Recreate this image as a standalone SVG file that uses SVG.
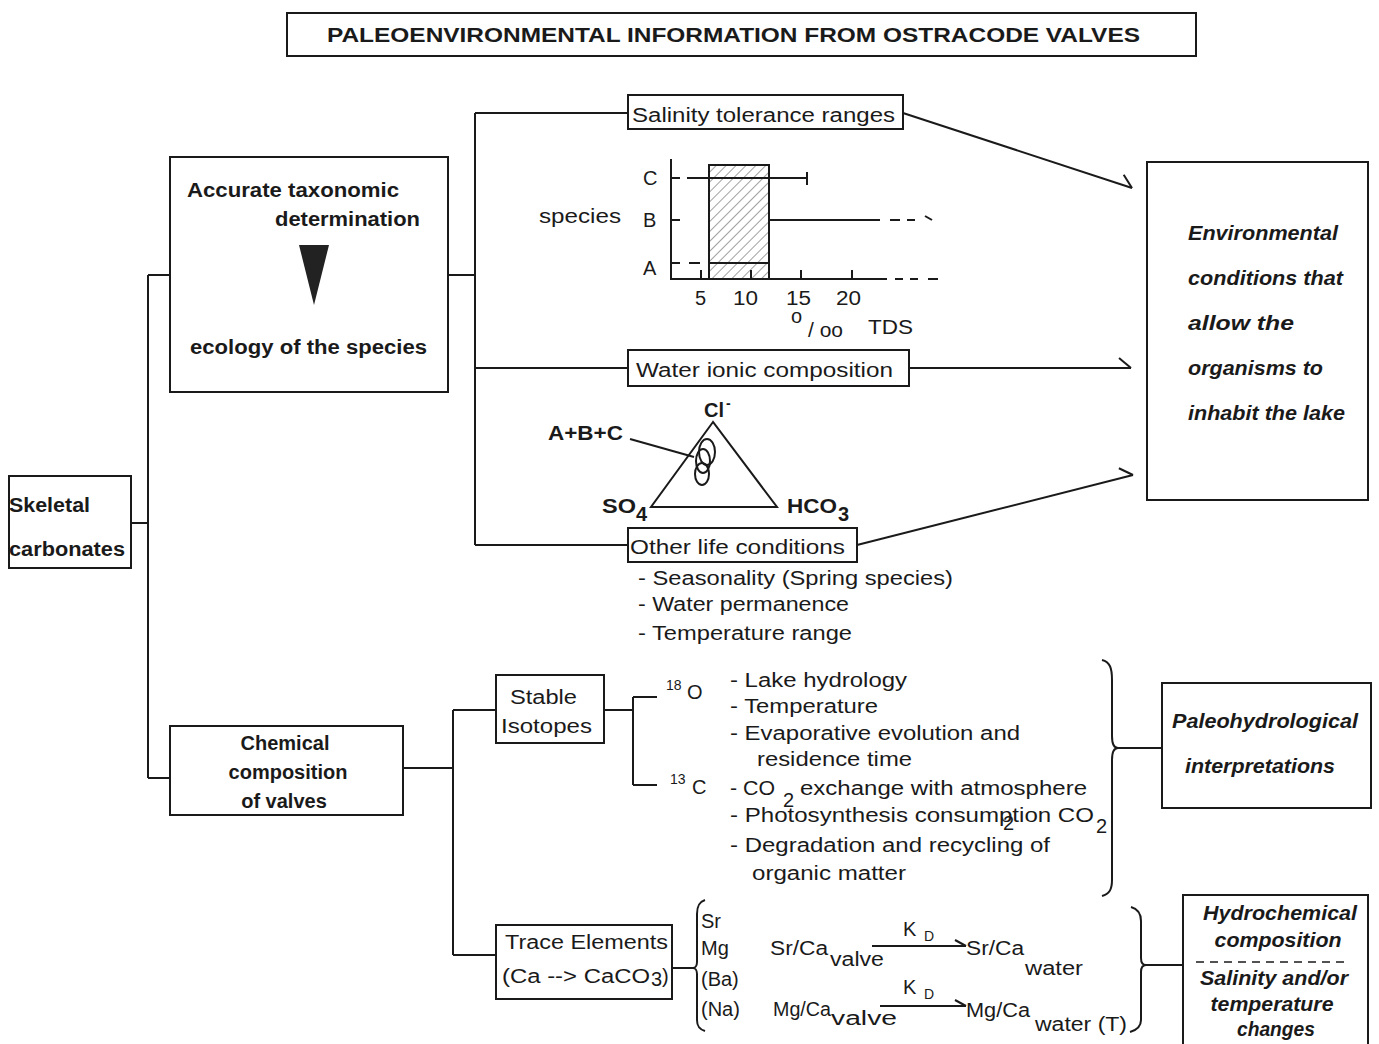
<svg xmlns="http://www.w3.org/2000/svg" width="1379" height="1044" viewBox="0 0 1379 1044">
<defs>
<style>
.ln{stroke:#1a1a1a;stroke-width:2;fill:none}
.bx{stroke:#1a1a1a;stroke-width:2;fill:#fff}
text{font-family:"Liberation Sans",Arial,sans-serif;fill:#1a1a1a;font-size:20px}
.b{font-weight:bold}
.i{font-weight:bold;font-style:italic}
.sm{font-size:14px}
</style>
<marker id="half" markerWidth="20" markerHeight="20" refX="14" refY="12" orient="auto" markerUnits="userSpaceOnUse" overflow="visible">
<path d="M2,2 L14,12" stroke="#1a1a1a" stroke-width="2" fill="none"/>
</marker>
<pattern id="hatch" width="7" height="7" patternUnits="userSpaceOnUse" patternTransform="rotate(45)">
<line x1="0" y1="0" x2="0" y2="7" stroke="#444" stroke-width="1"/>
</pattern>
</defs>
<rect width="1379" height="1044" fill="#fff"/>

<g id="title">
<rect class="bx" x="287" y="13" width="909" height="43"/>
<text class="b" x="327" y="42" font-size="25" textLength="813" lengthAdjust="spacingAndGlyphs">PALEOENVIRONMENTAL INFORMATION FROM OSTRACODE VALVES</text>
</g>

<g id="connectors">
<path class="ln" d="M131,523 H148 M148,275 V778 M148,275 H170 M148,778 H170"/>
<path class="ln" d="M448,275 H475 M475,113 V545 M475,113 H628 M475,368 H628 M475,545 H628"/>
<line class="ln" x1="903" y1="113" x2="1132" y2="188" marker-end="url(#half)"/>
<line class="ln" x1="909" y1="368" x2="1131" y2="368" marker-end="url(#half)"/>
<line class="ln" x1="857" y1="545" x2="1133" y2="475" marker-end="url(#half)"/>
<path class="ln" d="M403,768 H453 M453,710 V955 M453,710 H496 M453,955 H496"/>
<path class="ln" d="M604,710 H633 M633,697 V785 M633,697 H657 M633,785 H657"/>
<path class="ln" d="M1102,660 C1110,662 1112,668 1112,680 L1112,736 C1112,744 1114,748 1118,748 C1114,748 1112,752 1112,760 L1112,880 C1112,890 1109,894 1102,896"/>
<line class="ln" x1="1116" y1="748" x2="1162" y2="748"/>
<path class="ln" d="M672,968 H694"/>
<path class="ln" d="M705,900 C699,902 697,906 697,914 L697,962 C697,966 695,968 693,968 C695,968 697,970 697,974 L697,1020 C697,1026 699,1029 705,1031"/>
<path class="ln" d="M1131,907 C1138,909 1141,913 1141,921 L1141,958 C1141,963 1143,965 1146,965 C1143,965 1141,967 1141,972 L1141,1020 C1141,1027 1137,1030 1130,1032"/>
<line class="ln" x1="1143" y1="965" x2="1183" y2="965"/>
</g>

<g id="skeletal">
<rect class="bx" x="9" y="476" width="122" height="92"/>
<text class="b" x="9" y="512" textLength="81" lengthAdjust="spacingAndGlyphs">Skeletal</text>
<text class="b" x="9" y="556" textLength="116" lengthAdjust="spacingAndGlyphs">carbonates</text>
</g>

<g id="taxonomy">
<rect class="bx" x="170" y="157" width="278" height="235"/>
<text class="b" x="187" y="197" textLength="212" lengthAdjust="spacingAndGlyphs">Accurate taxonomic</text>
<text class="b" x="275" y="226" textLength="145" lengthAdjust="spacingAndGlyphs">determination</text>
<polygon points="299,245 329,245 314,305" fill="#222"/>
<text class="b" x="190" y="354" textLength="237" lengthAdjust="spacingAndGlyphs">ecology of the species</text>
</g>

<g id="salinity">
<rect class="bx" x="628" y="95" width="275" height="34"/>
<text x="632" y="122" font-size="23" textLength="263" lengthAdjust="spacingAndGlyphs">Salinity tolerance ranges</text>
</g>

<g id="chart">
<rect x="709" y="165" width="60" height="114" fill="url(#hatch)" stroke="#1a1a1a" stroke-width="2"/>
<path class="ln" d="M671,159 V279 H887"/>
<path class="ln" d="M895,279 H903 M910,279 H918 M928,279 H938" />
<path class="ln" d="M671,178 H680 M671,220 H680 M671,263 H680"/>
<path class="ln" d="M701,279 V270 M751,279 V270 M801,279 V270 M852,279 V270"/>
<path class="ln" d="M687,178 H807 M807,172 V185"/>
<path class="ln" d="M769,220 H880 M890,220 H900 M907,220 H915"/>
<path class="ln" d="M925,216 L932,220"/>
<path class="ln" d="M689,263 H700 M709,263 H769"/>
<text x="539" y="223" textLength="82" lengthAdjust="spacingAndGlyphs">species</text>
<text x="643" y="185">C</text>
<text x="643" y="227">B</text>
<text x="643" y="275">A</text>
<text x="695" y="305">5</text>
<text x="733" y="305" textLength="25" lengthAdjust="spacingAndGlyphs">10</text>
<text x="786" y="305" textLength="25" lengthAdjust="spacingAndGlyphs">15</text>
<text x="836" y="305" textLength="25" lengthAdjust="spacingAndGlyphs">20</text>
<text x="791" y="323">o</text>
<text x="808" y="337" textLength="35" lengthAdjust="spacingAndGlyphs">/ oo</text>
<text x="868" y="334" textLength="45" lengthAdjust="spacingAndGlyphs">TDS</text>
</g>

<g id="water-ionic">
<rect class="bx" x="628" y="350" width="281" height="36"/>
<text x="636" y="377" font-size="23" textLength="257" lengthAdjust="spacingAndGlyphs">Water ionic composition</text>
</g>

<g id="ternary">
<polygon class="ln" points="713,422 651,507 777,507"/>
<ellipse class="ln" cx="707" cy="452" rx="8" ry="13"/>
<ellipse class="ln" cx="703" cy="461" rx="7" ry="12"/>
<ellipse class="ln" cx="702" cy="474" rx="7" ry="11"/>
<line class="ln" x1="630" y1="439" x2="694" y2="457"/>
<text class="b" x="704" y="417">Cl</text>
<text class="b sm" x="726" y="408">-</text>
<text class="b" x="548" y="440" textLength="75" lengthAdjust="spacingAndGlyphs">A+B+C</text>
<text class="b" x="602" y="513" textLength="34" lengthAdjust="spacingAndGlyphs">SO</text>
<text class="b" x="636" y="521">4</text>
<text class="b" x="787" y="513" textLength="50" lengthAdjust="spacingAndGlyphs">HCO</text>
<text class="b" x="838" y="521">3</text>
</g>

<g id="other-life">
<rect class="bx" x="628" y="528" width="229" height="34"/>
<text x="630" y="554" font-size="23" textLength="215" lengthAdjust="spacingAndGlyphs">Other life conditions</text>
<text x="638" y="585" textLength="315" lengthAdjust="spacingAndGlyphs">- Seasonality (Spring species)</text>
<text x="638" y="611" textLength="211" lengthAdjust="spacingAndGlyphs">- Water permanence</text>
<text x="638" y="640" textLength="214" lengthAdjust="spacingAndGlyphs">- Temperature range</text>
</g>

<g id="environmental">
<rect class="bx" x="1147" y="162" width="221" height="338"/>
<text class="i" x="1188" y="240" textLength="150" lengthAdjust="spacingAndGlyphs">Environmental</text>
<text class="i" x="1188" y="285" textLength="155" lengthAdjust="spacingAndGlyphs">conditions that</text>
<text class="i" x="1188" y="330" textLength="106" lengthAdjust="spacingAndGlyphs">allow the</text>
<text class="i" x="1188" y="375" textLength="135" lengthAdjust="spacingAndGlyphs">organisms to</text>
<text class="i" x="1188" y="420" textLength="157" lengthAdjust="spacingAndGlyphs">inhabit the lake</text>
</g>

<g id="chemical">
<rect class="bx" x="170" y="726" width="233" height="89"/>
<text class="b" x="285" y="750" text-anchor="middle">Chemical</text>
<text class="b" x="288" y="779" text-anchor="middle">composition</text>
<text class="b" x="284" y="808" text-anchor="middle">of valves</text>
</g>

<g id="stable-isotopes">
<rect class="bx" x="496" y="675" width="108" height="68"/>
<text x="510" y="704" textLength="67" lengthAdjust="spacingAndGlyphs">Stable</text>
<text x="501" y="733" textLength="91" lengthAdjust="spacingAndGlyphs">Isotopes</text>
</g>

<g id="isotope-list">
<text class="sm" x="666" y="690">18</text>
<text x="687" y="699">O</text>
<text class="sm" x="670" y="784">13</text>
<text x="692" y="794">C</text>
<text x="730" y="687" textLength="177" lengthAdjust="spacingAndGlyphs">- Lake hydrology</text>
<text x="730" y="713" textLength="148" lengthAdjust="spacingAndGlyphs">- Temperature</text>
<text x="730" y="740" textLength="290" lengthAdjust="spacingAndGlyphs">- Evaporative evolution and</text>
<text x="757" y="766" textLength="155" lengthAdjust="spacingAndGlyphs">residence time</text>
<text x="730" y="795" textLength="45" lengthAdjust="spacingAndGlyphs">- CO</text>
<text x="783" y="807">2</text>
<text x="800" y="795" textLength="287" lengthAdjust="spacingAndGlyphs">exchange with atmosphere</text>
<text x="730" y="822" textLength="364" lengthAdjust="spacingAndGlyphs">- Photosynthesis consumption CO</text>
<text x="1003" y="830">2</text>
<text x="1096" y="833">2</text>
<text x="730" y="852" textLength="320" lengthAdjust="spacingAndGlyphs">- Degradation and recycling of</text>
<text x="752" y="880" textLength="154" lengthAdjust="spacingAndGlyphs">organic matter</text>
</g>

<g id="paleohydrological">
<rect class="bx" x="1162" y="683" width="209" height="125"/>
<text class="i" x="1172" y="728" textLength="186" lengthAdjust="spacingAndGlyphs">Paleohydrological</text>
<text class="i" x="1185" y="773" textLength="150" lengthAdjust="spacingAndGlyphs">interpretations</text>
</g>

<g id="trace-elements">
<rect class="bx" x="496" y="925" width="176" height="74"/>
<text x="505" y="949" textLength="163" lengthAdjust="spacingAndGlyphs">Trace Elements</text>
<text x="502" y="983" textLength="148" lengthAdjust="spacingAndGlyphs">(Ca --&gt; CaCO</text>
<text x="651" y="986" font-size="12">3</text>
<text x="662" y="983">)</text>
</g>

<g id="trace-list">
<text x="701" y="928">Sr</text>
<text x="701" y="955">Mg</text>
<text x="701" y="986">(Ba)</text>
<text x="701" y="1016">(Na)</text>
<text x="770" y="955" textLength="58" lengthAdjust="spacingAndGlyphs">Sr/Ca</text>
<text x="830" y="966" textLength="54" lengthAdjust="spacingAndGlyphs">valve</text>
<line class="ln" x1="872" y1="946" x2="966" y2="946"/>
<path class="ln" d="M955,940 L966,946"/>
<text x="903" y="936">K</text>
<text class="sm" x="924" y="941">D</text>
<text x="966" y="955" textLength="58" lengthAdjust="spacingAndGlyphs">Sr/Ca</text>
<text x="1025" y="975" textLength="58" lengthAdjust="spacingAndGlyphs">water</text>
<text x="773" y="1016" textLength="58" lengthAdjust="spacingAndGlyphs">Mg/Ca</text>
<text x="831" y="1025" textLength="66" lengthAdjust="spacingAndGlyphs">valve</text>
<line class="ln" x1="880" y1="1006" x2="966" y2="1006"/>
<path class="ln" d="M955,1000 L966,1006"/>
<text x="903" y="994">K</text>
<text class="sm" x="924" y="999">D</text>
<text x="966" y="1017" textLength="64" lengthAdjust="spacingAndGlyphs">Mg/Ca</text>
<text x="1035" y="1031" textLength="92" lengthAdjust="spacingAndGlyphs">water (T)</text>
</g>

<g id="hydrochemical">
<rect class="bx" x="1183" y="895" width="185" height="160"/>
<text class="i" x="1280" y="920" text-anchor="middle" textLength="154" lengthAdjust="spacingAndGlyphs">Hydrochemical</text>
<text class="i" x="1278" y="947" text-anchor="middle" textLength="127" lengthAdjust="spacingAndGlyphs">composition</text>
<line x1="1196" y1="962" x2="1346" y2="962" stroke="#1a1a1a" stroke-width="1.5" stroke-dasharray="8,6"/>
<text class="i" x="1274" y="985" text-anchor="middle" textLength="148" lengthAdjust="spacingAndGlyphs">Salinity and/or</text>
<text class="i" x="1272" y="1011" text-anchor="middle" textLength="123" lengthAdjust="spacingAndGlyphs">temperature</text>
<text class="i" x="1276" y="1036" text-anchor="middle" textLength="78" lengthAdjust="spacingAndGlyphs">changes</text>
</g>
</svg>
